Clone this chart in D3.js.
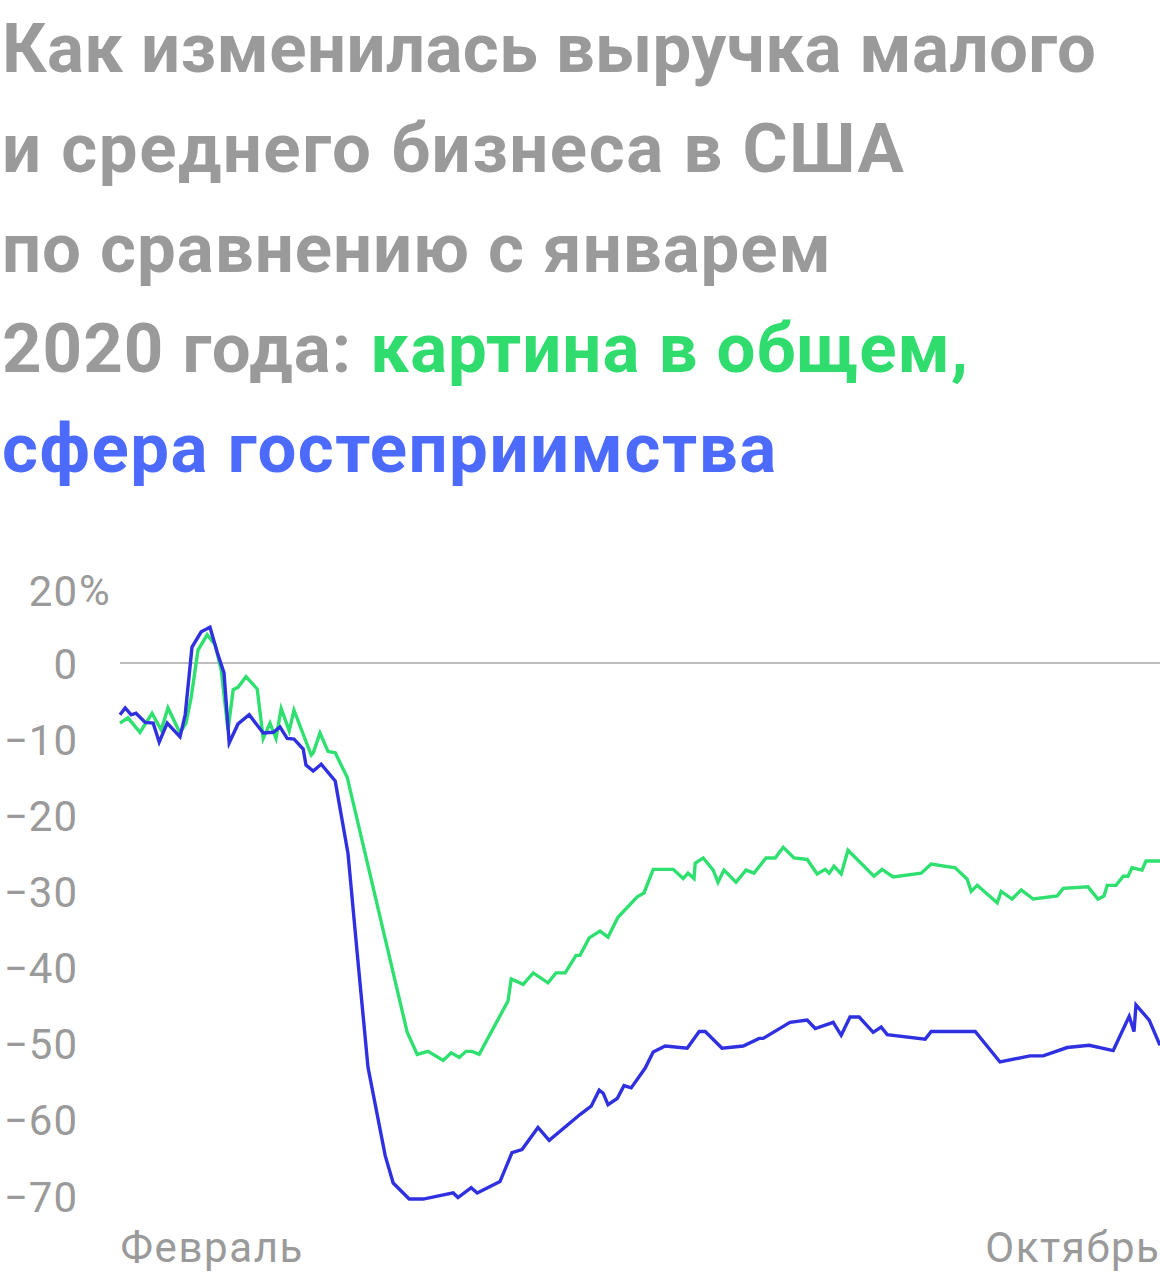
<!DOCTYPE html>
<html><head><meta charset="utf-8">
<script src="https://cdn.jsdelivr.net/npm/d3@7/dist/d3.min.js"></script>
<style>
html,body{margin:0;padding:0;background:#fff;}
svg{display:block;}
</style></head>
<body>
<svg id="chart" width="1160" height="1280"></svg>
<script>
// ---- data (day index since start of February, % change vs January 2020) ----
const totalDays = [0, 1.3, 2.8, 4, 6.3, 8.3, 9.8, 11.8, 15, 16.3, 18, 20.3, 22.5, 24.3, 26, 27.3, 29.5, 32.3, 35.8, 38.3, 40, 41.8, 43.5, 45.8, 46.5, 48.3, 50.3, 53.8, 57, 59.3, 62, 66.3, 68.3, 72.3, 75.8, 83.3, 84.5, 87.8, 89.3, 95, 98, 100.5, 104.5, 107.3, 115, 117.8, 119.8, 120.8, 122, 124.3, 126, 127.8, 131.3, 133.3, 136.3, 141.8, 144.8, 146.3, 150.5, 155.8, 159.8, 160.8, 167.5, 171.8, 173.8, 178.3, 180.3, 182.5, 184.8, 188.3, 190.3, 191.8, 201.3, 202.8, 213.8, 220, 227.5, 230.8, 236.8, 242.3, 248.3, 252.3, 253.5, 254, 257.3, 260];
const hospitalityValues = [-6.8, -5.9, -6.8, -6.6, -7.8, -7.9, -10.4, -7.9, -9.7, -6.8, 2.1, 4.1, 4.7, 1.4, -1.3, -10.5, -8.0, -6.8, -9.2, -9.1, -8.4, -9.9, -10.0, -11.3, -13.4, -14.2, -13.3, -15.5, -25.0, -38.1, -53.1, -64.7, -68.3, -70.4, -70.4, -69.6, -70.2, -68.9, -69.6, -68.1, -64.3, -63.9, -61.0, -62.7, -59.3, -58.2, -56.1, -56.5, -58.0, -57.2, -55.5, -55.8, -53.2, -51.1, -50.3, -50.6, -48.4, -48.4, -50.6, -50.3, -49.3, -49.3, -47.2, -46.9, -48.0, -47.2, -48.9, -46.5, -46.5, -48.5, -47.8, -48.8, -49.4, -48.4, -48.4, -52.4, -51.6, -51.6, -50.5, -50.2, -50.9, -46.4, -48.4, -44.9, -46.9, -50.2];

const overallDays = [0, 2, 5, 8, 10.3, 12, 15, 16.5, 17.8, 19.5, 21.8, 23.8, 25.3, 27, 28.3, 29.5, 31.5, 34.3, 35.8, 37.5, 39, 40.3, 42.3, 43.5, 47.8, 48.3, 50, 52, 53.8, 56.8, 71.8, 74.3, 77, 80.8, 82.8, 84.8, 86.5, 88, 89.8, 97, 97.8, 100.8, 103.3, 107, 109, 111.3, 114, 115, 117.3, 120, 122, 124.5, 129.3, 131, 133.3, 138.3, 140.8, 142, 143.5, 143.8, 145.8, 148.3, 149.5, 151, 154, 156.5, 158.5, 161.5, 163.8, 165.8, 168.5, 171.8, 174.3, 176.3, 177.3, 178.5, 180.3, 182, 188.5, 190.5, 193.3, 200.3, 202.8, 208.8, 211.8, 212.8, 214.3, 219.3, 220.3, 223, 225.3, 228.3, 234.3, 235.8, 242, 244.5, 246, 246.8, 249, 250.8, 252, 253, 255.5, 256.5, 260];
const overallValues = [-7.9, -7.2, -9.1, -6.6, -8.8, -5.9, -9.2, -7.9, -4.5, 1.7, 3.7, 2.4, -0.9, -8.8, -3.5, -3.2, -1.8, -3.4, -9.9, -7.9, -9.9, -6.0, -8.9, -6.2, -12.1, -11.8, -9.2, -11.6, -11.8, -15.0, -48.5, -51.4, -51.0, -52.2, -51.2, -51.8, -51.0, -51.0, -51.4, -44.4, -41.5, -42.2, -40.7, -42.0, -40.7, -40.7, -38.4, -38.4, -36.1, -35.2, -36.0, -33.4, -30.7, -30.2, -27.1, -27.1, -28.3, -27.6, -28.3, -26.3, -25.6, -27.2, -28.8, -27.2, -28.8, -27.2, -27.6, -25.6, -25.6, -24.2, -25.6, -25.8, -27.7, -27.1, -27.6, -26.7, -27.7, -24.6, -28.0, -27.1, -28.1, -27.6, -26.4, -26.9, -28.4, -30.0, -29.2, -31.5, -30.0, -31.0, -29.8, -31.0, -30.6, -29.6, -29.4, -31.0, -30.6, -29.2, -29.2, -28.0, -28.0, -26.9, -27.2, -26.0, -26.0];

const yTickValues = [9.6, 0, -10, -20, -30, -40, -50, -60, -70];
const yTickLabels = ["20", "0", "−10", "−20", "−30", "−40", "−50", "−60", "−70"];
const xTickValues = [0, 260];
const xTickLabels = ["Февраль", "Октябрь"];

const titleLines = [
  [{t: "Как изменилась выручка малого", c: "grey"}],
  [{t: "и среднего бизнеса в США", c: "grey"}],
  [{t: "по сравнению с январем", c: "grey"}],
  [{t: "2020 года: ", c: "grey"}, {t: "картина в общем,", c: "green"}],
  [{t: "сфера гостеприимства", c: "blue"}]
];
const titleWidths = [1094, 902, 829, 966, 774];

// ---- drawing ----
const colors = {grey: "#9a9a9a", green: "#30dc6e", blue: "#4c6bfd"};
const lineGreen = "#2fe070";
const lineBlue = "#2f30e0";
const svg = d3.select("#chart");
const font = "Roboto, 'Open Sans', sans-serif";

const title = svg.append("g");
titleLines.forEach((line, i) => {
  const t = title.append("text")
    .attr("x", 2).attr("y", 72 + i * 100)
    .attr("font-family", font).attr("font-weight", 700)
    .attr("font-size", 69);
  line.forEach(seg => t.append("tspan").attr("fill", colors[seg.c]).text(seg.t));
  const w = t.node().getComputedTextLength();
  const n = line.map(s => s.t).join("").length;
  const ls = (titleWidths[i] - w) / Math.max(1, n - 1);
  t.attr("letter-spacing", ls.toFixed(2));
});

const x = d3.scaleLinear().domain([0, 260]).range([120, 1160]);
const y = d3.scaleLinear().domain([0, -70]).range([663, 1196]);

// zero line
svg.append("line")
  .attr("x1", x(0)).attr("x2", x(260))
  .attr("y1", y(0)).attr("y2", y(0))
  .attr("stroke", "#bdbdbd").attr("stroke-width", 2);

const axisFont = 42;
const axisWeight = 400;
// y axis labels
const yAxis = d3.axisLeft(y).tickValues(yTickValues)
  .tickFormat((d, i) => yTickLabels[i]).tickSize(0).tickPadding(0);
const gy = svg.append("g").attr("transform", "translate(78,0)").call(yAxis);
gy.select(".domain").remove();
gy.selectAll("text")
  .attr("font-family", font).attr("font-weight", axisWeight).attr("font-size", axisFont).attr("fill", "#9a9a9a")
  .attr("dy", "0.36em").attr("letter-spacing", 1);
gy.append("text").attr("x", 1).attr("y", y(9.6)).attr("dy", "0.36em")
  .attr("text-anchor", "start")
  .attr("font-family", font).attr("font-weight", axisWeight).attr("font-size", axisFont).attr("fill", "#9a9a9a")
  .text("%");

// x axis labels
const xAxis = d3.axisBottom(x).tickValues(xTickValues)
  .tickFormat((d, i) => xTickLabels[i]).tickSize(0).tickPadding(0);
const gx = svg.append("g").attr("transform", "translate(0,1262)").call(xAxis);
gx.select(".domain").remove();
gx.selectAll("text")
  .attr("font-family", font).attr("font-weight", axisWeight).attr("font-size", axisFont).attr("fill", "#9a9a9a")
  .attr("dy", 0).attr("letter-spacing", 1.6)
  .attr("text-anchor", (d, i) => i === 0 ? "start" : "end");

const line = d3.line().x(d => x(d[0])).y(d => y(d[1])).curve(d3.curveLinear);
const overall = overallDays.map((d, i) => [d, overallValues[i]]);
const hosp = totalDays.map((d, i) => [d, hospitalityValues[i]]);

svg.append("path").datum(overall).attr("d", line)
  .attr("fill", "none").attr("stroke", lineGreen).attr("stroke-width", 3.4)
  .attr("stroke-linejoin", "miter");
svg.append("path").datum(hosp).attr("d", line)
  .attr("fill", "none").attr("stroke", lineBlue).attr("stroke-width", 3.4)
  .attr("stroke-linejoin", "miter");
</script>
</body></html>
